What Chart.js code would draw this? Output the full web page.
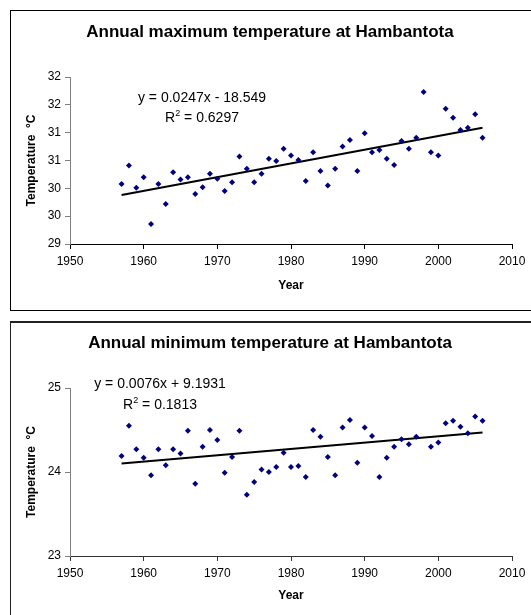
<!DOCTYPE html>
<html>
<head>
<meta charset="utf-8">
<title>Hambantota temperature</title>
<script src="https://cdn.jsdelivr.net/npm/chart.js@4.4.1/dist/chart.umd.min.js"></script>
<style>
    body { margin: 0; width: 531px; height: 615px; overflow: hidden; background: #fff; position: relative; font-family: "Liberation Sans", Arial, sans-serif; }
    .box { position: absolute; left: 10px; width: 540px; background: #fff; }
    #box1 { top: 10px; height: 299px; border: 1px solid #000; }
    #box2 { top: 321px; height: 310px; border: 1px solid #222; border-top: 2px solid #222; }
    canvas { position: absolute; left: 0; }
    #maxChart { top: 0; }
    #minChart { top: 316px; }
    .eq { position: absolute; font-size: 14px; color: #000; white-space: nowrap; transform: translate(-50%, -50%); line-height: 16px; }
    .eq sup { font-size: 9px; vertical-align: 6px; line-height: 0; }
</style>
</head>
<body>
<div class="box" id="box1"></div>
<div class="box" id="box2"></div>
<canvas id="maxChart" width="531" height="315"></canvas>
<canvas id="minChart" width="531" height="299"></canvas>

<div class="eq" style="left:202px; top:97px;">y = 0.0247x - 18.549</div>
<div class="eq" style="left:202px; top:117px;">R<sup>2</sup> = 0.6297</div>
<div class="eq" style="left:160px; top:383px;">y = 0.0076x + 9.1931</div>
<div class="eq" style="left:160px; top:404px;">R<sup>2</sup> = 0.1813</div>

<script>
    // Data
    var maxYears = [1957, 1958, 1959, 1960, 1961, 1962, 1963, 1964, 1965, 1966,
                    1967, 1968, 1969, 1970, 1971, 1972, 1973, 1974, 1975, 1976,
                    1977, 1978, 1979, 1980, 1981, 1982, 1983, 1984, 1985, 1986,
                    1987, 1988, 1989, 1990, 1991, 1992, 1993, 1994, 1995, 1996,
                    1997, 1998, 1999, 2000, 2001, 2002, 2003, 2004, 2005, 2006];
    var maxTemp = [30.08, 30.41, 30.01, 30.20, 29.36, 30.08, 29.72, 30.29, 30.16, 30.20,
                   29.90, 30.02, 30.26, 30.17, 29.95, 30.11, 30.57, 30.35, 30.11, 30.26,
                   30.53, 30.49, 30.71, 30.59, 30.51, 30.13, 30.65, 30.31, 30.05, 30.35,
                   30.75, 30.87, 30.31, 30.99, 30.65, 30.69, 30.53, 30.42, 30.85, 30.71,
                   30.91, 31.73, 30.65, 30.59, 31.43, 31.27, 31.05, 31.09, 31.33, 30.91];

    var minYears = [1957, 1958, 1959, 1960, 1961, 1962, 1963, 1964, 1965, 1966,
                    1967, 1968, 1969, 1970, 1971, 1972, 1973, 1974, 1975, 1976,
                    1977, 1978, 1979, 1980, 1981, 1982, 1983, 1984, 1985, 1986,
                    1987, 1988, 1989, 1990, 1991, 1992, 1993, 1994, 1995, 1996,
                    1997, 1999, 2000, 2001, 2002, 2003, 2004, 2005, 2006];
    var minTemp = [24.19, 24.55, 24.27, 24.17, 23.96, 24.27, 24.08, 24.27, 24.22, 24.49,
                   23.86, 24.30, 24.50, 24.38, 23.99, 24.18, 24.49, 23.73, 23.88, 24.03,
                   24.00, 24.06, 24.23, 24.06, 24.07, 23.94, 24.50, 24.42, 24.18, 23.96,
                   24.53, 24.62, 24.11, 24.53, 24.43, 23.94, 24.17, 24.30, 24.39, 24.33,
                   24.42, 24.30, 24.35, 24.58, 24.61, 24.54, 24.46, 24.66, 24.61];

    // trend line ends as drawn
    var trendYears = [1957, 2006];
    var maxTrend = [29.88, 31.09];
    var minTrend = [24.10, 24.47];

    // tick labels
    var yearTicks = [1950, 1960, 1970, 1980, 1990, 2000, 2010];
    var maxTickLabels = ['29', '30', '30', '31', '31', '32', '32'];
    var minTickLabels = ['23', '24', '25'];

    var FONT = '"Liberation Sans", Arial, sans-serif';

    function pairs(xs, ys) {
        return xs.map(function (x, i) { return {x: x, y: ys[i]}; });
    }

    function makeChart(id, cfg) {
        var ctx = document.getElementById(id).getContext('2d');
        return new Chart(ctx, {
            type: 'scatter',
            data: {
                datasets: [{
                    data: pairs(cfg.years, cfg.values),
                    pointStyle: 'rectRot',
                    pointRadius: 3,
                    backgroundColor: '#000080',
                    borderColor: '#000080',
                    borderWidth: 0
                }, {
                    type: 'line',
                    data: pairs(trendYears, cfg.trend),
                    borderColor: '#000',
                    borderWidth: 2,
                    pointRadius: 0,
                    fill: false
                }]
            },
            options: {
                responsive: false,
                animation: false,
                events: [],
                // left padding shifts the title centre, the y axis width makes up the rest
                layout: { padding: { left: 28, right: 19, top: 0, bottom: 0 } },
                plugins: {
                    legend: { display: false },
                    tooltip: { enabled: false },
                    title: {
                        display: true,
                        text: cfg.title,
                        color: '#000',
                        font: { family: FONT, size: 17, weight: 'bold' },
                        padding: { top: cfg.titleTop, bottom: cfg.titleBottom }
                    }
                },
                scales: {
                    x: {
                        type: 'linear',
                        min: 1950,
                        max: 2010,
                        afterBuildTicks: function (s) {
                            s.ticks = yearTicks.map(function (v) { return {value: v}; });
                        },
                        afterFit: function (s) { s.height = cfg.xHeight; },
                        ticks: {
                            color: '#000',
                            padding: 5,
                            maxRotation: 0,
                            font: { family: FONT, size: 12 },
                            callback: function (v) { return String(v); }
                        },
                        grid: { drawOnChartArea: false, drawTicks: true, tickLength: 5, color: cfg.xColor },
                        border: { display: true, color: cfg.xColor, width: 1 },
                        title: {
                            display: true,
                            text: 'Year',
                            color: '#000',
                            font: { family: FONT, size: 12, weight: 'bold' },
                            padding: { top: 0, bottom: cfg.yearPad }
                        }
                    },
                    y: {
                        min: cfg.yMin,
                        max: cfg.yMax,
                        afterBuildTicks: function (s) {
                            s.ticks = cfg.yLabels.map(function (l, i) { return {value: cfg.yMin + i * cfg.yStep}; });
                        },
                        afterFit: function (s) { s.width = 42; },
                        ticks: {
                            color: '#000',
                            padding: 4,
                            font: { family: FONT, size: 12 },
                            callback: function (v, i) { return cfg.yLabels[i]; }
                        },
                        grid: { drawOnChartArea: false, drawTicks: true, tickLength: 5, color: '#808080' },
                        border: { display: true, color: '#808080', width: 1 },
                        title: {
                            display: true,
                            text: 'Temperature  \u00B0C',
                            color: '#000',
                            font: { family: FONT, size: 12, weight: 'bold' },
                            padding: { top: -3.2, bottom: 0 }
                        }
                    }
                }
            }
        });
    }

    // Maximum temperature chart
    makeChart('maxChart', {
        title: 'Annual maximum temperature at Hambantota',
        years: maxYears,
        values: maxTemp,
        trend: maxTrend,
        yMin: 29, yMax: 32, yStep: 0.5,
        yLabels: maxTickLabels,
        titleTop: 21.8, titleBottom: 34.8,
        xHeight: 71, yearPad: 21.8,
        xColor: '#000'
    });

    // Minimum temperature chart
    makeChart('minChart', {
        title: 'Annual minimum temperature at Hambantota',
        years: minYears,
        values: minTemp,
        trend: minTrend,
        yMin: 23, yMax: 25, yStep: 1,
        yLabels: minTickLabels,
        titleTop: 16.8, titleBottom: 34.8,
        xHeight: 59, yearPad: 11.8,
        xColor: '#333'
    });
</script>
</body>
</html>
